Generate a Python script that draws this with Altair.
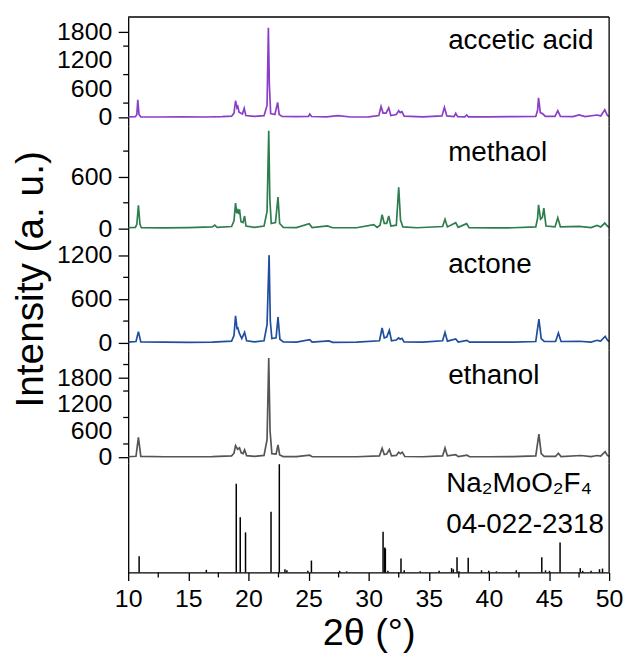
import altair as alt
import pandas as pd

# ---------------- data ----------------
x_ticks = [10, 15, 20, 25, 30, 35, 40, 45, 50]
x_minor = [12.5, 17.5, 22.5, 27.5, 32.5, 37.5, 42.5, 47.5]

acc_x = [10.0, 10.6, 10.72, 10.8, 10.9, 11.05, 12.5, 14.5, 16.5, 17.8, 18.6, 18.8, 18.93, 19.05, 19.12, 19.22, 19.5, 19.65, 19.78, 20.5, 21.3, 21.55, 21.66, 21.74, 21.85, 22.2, 22.43, 22.56, 22.8, 24.0, 25.0, 25.1, 25.25, 26.5, 27.45, 28.5, 30.0, 30.85, 31.03, 31.2, 31.45, 31.67, 31.85, 32.3, 32.5, 32.62, 32.77, 32.95, 34.5, 36.1, 36.3, 36.5, 37.1, 37.24, 37.4, 38.0, 38.15, 38.3, 40.0, 42.1, 43.9, 44.05, 44.13, 44.28, 44.5, 44.7, 45.5, 45.73, 45.95, 47.0, 47.5, 48.0, 49.0, 49.3, 49.64, 49.85, 50.0]
acc_y = [10, 15, 60, 370, 60, 12, 8, 12, 8, 15, 25, 90, 350, 200, 230, 110, 70, 190, 40, 20, 35, 250, 1885, 700, 80, 60, 314, 60, 20, 15, 20, 70, 18, 10, 35, 8, 12, 40, 230, 90, 90, 200, 40, 60, 140, 100, 120, 25, 10, 30, 210, 30, 15, 85, 15, 12, 50, 12, 10, 15, 20, 150, 412, 100, 70, 20, 20, 140, 20, 15, 50, 15, 50, 30, 160, 40, 20]

met_x = [10.0, 10.6, 10.72, 10.85, 10.98, 11.1, 13.0, 15.0, 17.0, 17.2, 17.4, 18.6, 18.8, 18.93, 19.03, 19.12, 19.2, 19.26, 19.38, 19.55, 19.68, 19.8, 20.5, 21.3, 21.55, 21.69, 21.78, 21.9, 22.25, 22.46, 22.6, 22.9, 24.0, 25.05, 25.3, 26.57, 27.0, 29.0, 30.43, 30.7, 30.95, 31.12, 31.3, 31.5, 31.67, 31.85, 32.3, 32.5, 32.65, 32.85, 34.0, 36.15, 36.35, 36.55, 37.24, 37.45, 38.15, 38.35, 40.35, 42.0, 43.9, 44.05, 44.13, 44.3, 44.45, 44.57, 44.75, 45.5, 45.73, 45.95, 47.5, 48.5, 49.0, 49.3, 49.64, 49.85, 50.0]
met_y = [10, 15, 50, 270, 50, 10, 8, 12, 20, 40, 15, 25, 90, 296, 180, 212, 170, 223, 80, 70, 146, 30, 15, 30, 200, 1135, 350, 60, 70, 366, 60, 15, 12, 58, 12, 31, 10, 10, 46, 15, 40, 162, 60, 60, 146, 30, 40, 481, 100, 20, 10, 25, 108, 20, 69, 15, 58, 12, 8, 10, 20, 120, 277, 110, 130, 239, 30, 20, 127, 20, 27, 12, 38, 20, 65, 30, 15]

act_x = [10.0, 10.65, 10.85, 11.05, 13.0, 15.0, 17.0, 18.6, 18.8, 18.93, 19.05, 19.12, 19.25, 19.45, 19.68, 19.85, 20.5, 21.3, 21.55, 21.72, 21.82, 21.95, 22.3, 22.46, 22.62, 22.9, 24.0, 25.1, 25.3, 26.7, 27.0, 29.0, 30.9, 31.12, 31.3, 31.5, 31.72, 31.9, 32.3, 32.5, 32.62, 32.77, 32.95, 34.5, 36.15, 36.35, 36.55, 37.24, 37.45, 38.17, 38.4, 40.0, 42.0, 43.9, 44.16, 44.35, 44.6, 45.55, 45.78, 46.0, 47.5, 48.5, 49.0, 49.3, 49.67, 49.85, 50.0]
act_y = [10, 20, 155, 15, 10, 8, 12, 25, 100, 373, 200, 205, 130, 60, 145, 30, 15, 30, 250, 1205, 300, 60, 70, 355, 50, 15, 12, 45, 12, 27, 8, 10, 30, 205, 70, 80, 173, 30, 40, 68, 50, 64, 15, 10, 30, 145, 25, 55, 12, 36, 10, 10, 12, 20, 327, 60, 20, 20, 136, 20, 23, 12, 36, 25, 91, 40, 20]

eth_x = [10.0, 10.65, 10.85, 11.05, 13.0, 15.0, 17.0, 18.6, 18.8, 18.93, 19.1, 19.26, 19.4, 19.55, 19.68, 19.85, 20.5, 21.3, 21.55, 21.69, 21.8, 21.95, 22.3, 22.46, 22.6, 22.9, 24.0, 25.1, 25.3, 27.0, 29.0, 30.9, 31.12, 31.3, 31.5, 31.72, 31.9, 32.3, 32.5, 32.65, 32.8, 33.0, 34.5, 36.15, 36.35, 36.55, 37.24, 37.45, 38.17, 38.4, 40.0, 42.0, 43.9, 44.16, 44.35, 44.6, 45.55, 45.78, 46.0, 47.65, 48.5, 49.0, 49.3, 49.67, 49.85, 50.0]
eth_y = [10, 20, 450, 20, 10, 10, 12, 30, 90, 263, 180, 210, 100, 80, 165, 35, 20, 40, 400, 2250, 600, 80, 70, 278, 50, 15, 12, 45, 12, 10, 10, 30, 203, 60, 70, 173, 30, 40, 113, 80, 113, 15, 10, 30, 210, 30, 60, 12, 45, 10, 10, 12, 30, 525, 80, 20, 20, 90, 15, 38, 12, 38, 25, 128, 40, 20]

ref_pos = [10.91, 16.5, 18.99, 19.32, 19.76, 21.88, 22.57, 23.04, 23.2, 24.94, 25.24, 27.59, 28.17, 31.2, 31.34, 31.39, 31.6, 32.69, 32.96, 34.29, 35.86, 36.9, 37.04, 37.35, 37.51, 38.28, 39.39, 39.99, 40.63, 42.28, 44.4, 44.71, 45.04, 45.92, 47.6, 47.8, 48.5, 49.2, 49.45]
ref_int = [15, 2.4, 82, 51, 37, 56, 100, 3, 2, 1.5, 11, 1.5, 1, 37.5, 23, 22, 1.5, 13, 2, 1, 1.5, 4, 3, 14, 1, 13.5, 2, 1.5, 1, 2, 14, 2, 1.5, 27.6, 4, 1.5, 1.5, 3, 3.6]

FONT = "Liberation Sans"
TICK_FS = 25
NAME_FS = 28
W = 484
X_SCALE = alt.Scale(domain=[10, 50], nice=False, zero=False)
one = pd.DataFrame({"a": [0]})


def right_border(h):
    return alt.Chart(one).mark_rule(color="black", strokeWidth=1.3).encode(
        x=alt.value(W), y=alt.value(0), y2=alt.value(h))


def label(text, x, y, size=NAME_FS):
    return alt.Chart(pd.DataFrame({"t": [text]})).mark_text(
        align="left", baseline="alphabetic", fontSize=size, font=FONT, color="black"
    ).encode(text="t:N", x=alt.value(x), y=alt.value(y))


def spectrum(xs, ys, color, h, dom, major, minor, name, name_y, extra=None):
    df = pd.DataFrame({"x": xs, "y": ys})
    yscale = alt.Scale(domain=dom, nice=False, zero=False)
    line = alt.Chart(df).mark_line(color=color, strokeWidth=1.7, clip=True).encode(
        x=alt.X("x:Q", scale=X_SCALE, axis=None),
        y=alt.Y("y:Q", scale=yscale, axis=alt.Axis(
            values=major, title=None, labels=False,
            tickSize=10, tickWidth=1.3, tickColor="black", domainColor="black", domainWidth=1.3,
            grid=False)),
    )
    ldf = pd.DataFrame({"v": major, "s": [str(v) for v in major]})
    ylabels = alt.Chart(ldf).mark_text(
        align="right", baseline="middle", fontSize=TICK_FS, font=FONT, color="black"
    ).encode(y=alt.Y("v:Q", scale=yscale), text="s:N", x=alt.value(-16))
    mdf = pd.DataFrame({"m": minor})
    mticks = alt.Chart(mdf).mark_rule(color="black", strokeWidth=1.3).encode(
        y=alt.Y("m:Q", scale=yscale), x=alt.value(-5), x2=alt.value(0))
    layers = [line, ylabels, mticks, right_border(h), label(name, 322, name_y)]
    if extra is not None:
        layers += extra
    return alt.layer(*layers).properties(width=W, height=h)


top_rule = alt.Chart(one).mark_rule(color="black", strokeWidth=1.3).encode(
    x=alt.value(0), x2=alt.value(W), y=alt.value(0))

p_acc = spectrum(acc_x, acc_y, "#8A3FC9", 110, [-188, 2113], [0, 600, 1200, 1800],
                 [300, 900, 1500], "accetic acid", 32, extra=[top_rule])
p_met = spectrum(met_x, met_y, "#2E7D4E", 112, [-104, 1188], [0, 600],
                 [300, 900], "methaol", 35)
ytitle = alt.Chart(pd.DataFrame({"t": ["Intensity (a. u.)"]})).mark_text(
    angle=270, align="center", baseline="middle", fontSize=39, font=FONT, color="black"
).encode(text="t:N", x=alt.value(-98), y=alt.value(42))
p_act = spectrum(act_x, act_y, "#1F4E9F", 114, [-109, 1446], [0, 600, 1200],
                 [300, 900], "actone", 36, extra=[ytitle])
p_eth = spectrum(eth_x, eth_y, "#555555", 113, [-135, 2410], [0, 600, 1200, 1800],
                 [300, 900, 1500, 2100], "ethanol", 33)

# reference stick pattern
HR = 110
rdf = pd.DataFrame({"x": ref_pos, "i": ref_int, "z": [0] * len(ref_pos)})
ryscale = alt.Scale(domain=[0, 101], nice=False, zero=False)
sticks = alt.Chart(rdf).mark_rule(color="black", strokeWidth=1.5).encode(
    x=alt.X("x:Q", scale=X_SCALE, axis=alt.Axis(
        values=x_ticks, title="2θ (°)", titleFontSize=38, titleFont=FONT, titleFontWeight="normal",
        titleColor="black", labelFontSize=TICK_FS, labelFont=FONT, labelColor="black",
        tickSize=8, tickWidth=1.3, tickColor="black", domainColor="black", domainWidth=1.3,
        grid=False, labelPadding=6, titlePadding=4, labelFlush=False, labelOverlap=False,
        format="d")),
    y=alt.Y("z:Q", scale=ryscale, axis=alt.Axis(
        ticks=False, labels=False, title=None, grid=False, domainColor="black", domainWidth=1.3)),
    y2="i:Q",
)
xm = alt.Chart(pd.DataFrame({"m": x_minor})).mark_rule(color="black", strokeWidth=1.3).encode(
    x=alt.X("m:Q", scale=X_SCALE), y=alt.value(HR), y2=alt.value(HR + 5))
p_ref = alt.layer(
    sticks, xm, right_border(HR),
    label("Na₂MoO₂F₄", 320, 29), label("04-022-2318", 320, 70),
).properties(width=W, height=HR)

chart = alt.vconcat(p_acc, p_met, p_act, p_eth, p_ref, spacing=0, bounds="flush").resolve_scale(
    y="independent"
).properties(
    padding={"left": 12, "top": 14, "right": 5, "bottom": 5}
).configure_view(stroke=None)

chart.save("out.html", embed_options={"renderer": "svg", "actions": False})
